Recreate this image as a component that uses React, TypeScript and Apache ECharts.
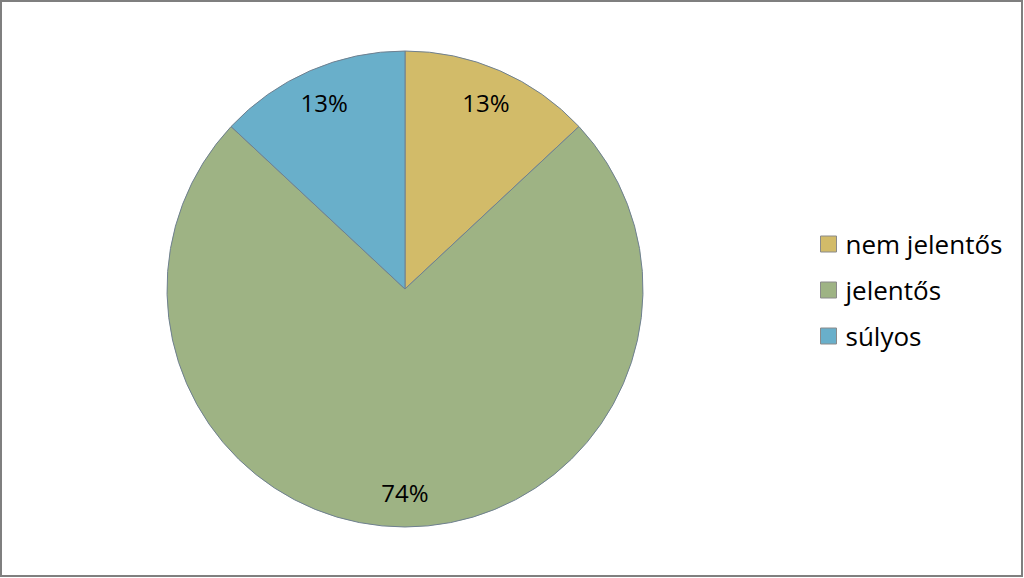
import React, { useEffect, useRef } from "react";
import * as echarts from "echarts";

const categories = ["nem jelentős", "jelentős", "súlyos"];
const values = [3, 17, 3];
const colors = ["#D2BB69", "#9EB384", "#69AFCA"];

export default function App() {
  const ref = useRef<HTMLDivElement>(null);
  useEffect(() => {
    const chart = echarts.init(ref.current!, null, { renderer: "svg" });
    const data = categories.map((name, i) => ({ name, value: values[i], itemStyle: { color: colors[i] } }));
    const font = "'Open Sans', Lato, sans-serif";
    chart.setOption({
      animation: false,
      backgroundColor: "#ffffff",
      legend: {
        orient: "vertical",
        left: 815,
        top: 226,
        itemWidth: 16,
        itemHeight: 16,
        itemGap: 20,
        icon: "rect",
        data: categories,
        textStyle: { fontFamily: font, fontSize: 26, color: "#000", lineHeight: 26, padding: [0, 0, 0, 4] },
        itemStyle: { borderColor: "#8a8a8a", borderWidth: 1 },
      },
      graphic: [
        {
          type: "rect",
          shape: { x: 1, y: 1, width: 1021, height: 575 },
          style: { fill: "none", stroke: "#7f7f7f", lineWidth: 2 },
          silent: true,
        },
      ],
      series: [
        {
          type: "pie",
          center: [405, 289],
          radius: [0, 238],
          startAngle: 90,
          clockwise: true,
          data,
          label: { show: false },
          labelLine: { show: false },
          itemStyle: { borderColor: "#6f8090", borderWidth: 1 },
          emphasis: { disabled: true },
        },
        {
          type: "pie",
          center: [405, 289],
          radius: [162, 238],
          startAngle: 90,
          clockwise: true,
          silent: true,
          data: categories.map((name, i) => ({ name, value: values[i] })),
          itemStyle: { color: "transparent", borderWidth: 0 },
          label: {
            show: true,
            position: "inside",
            fontFamily: font,
            fontSize: 24,
            color: "#000",
            formatter: (p: any) => Math.round(p.percent) + "%",
          },
          labelLine: { show: false },
          emphasis: { disabled: true },
          legendHoverLink: false,
        },
      ],
    });
    return () => chart.dispose();
  }, []);
  return <div ref={ref} style={{ position: "absolute", left: 0, top: 0, width: 1024, height: 578 }} />;
}
